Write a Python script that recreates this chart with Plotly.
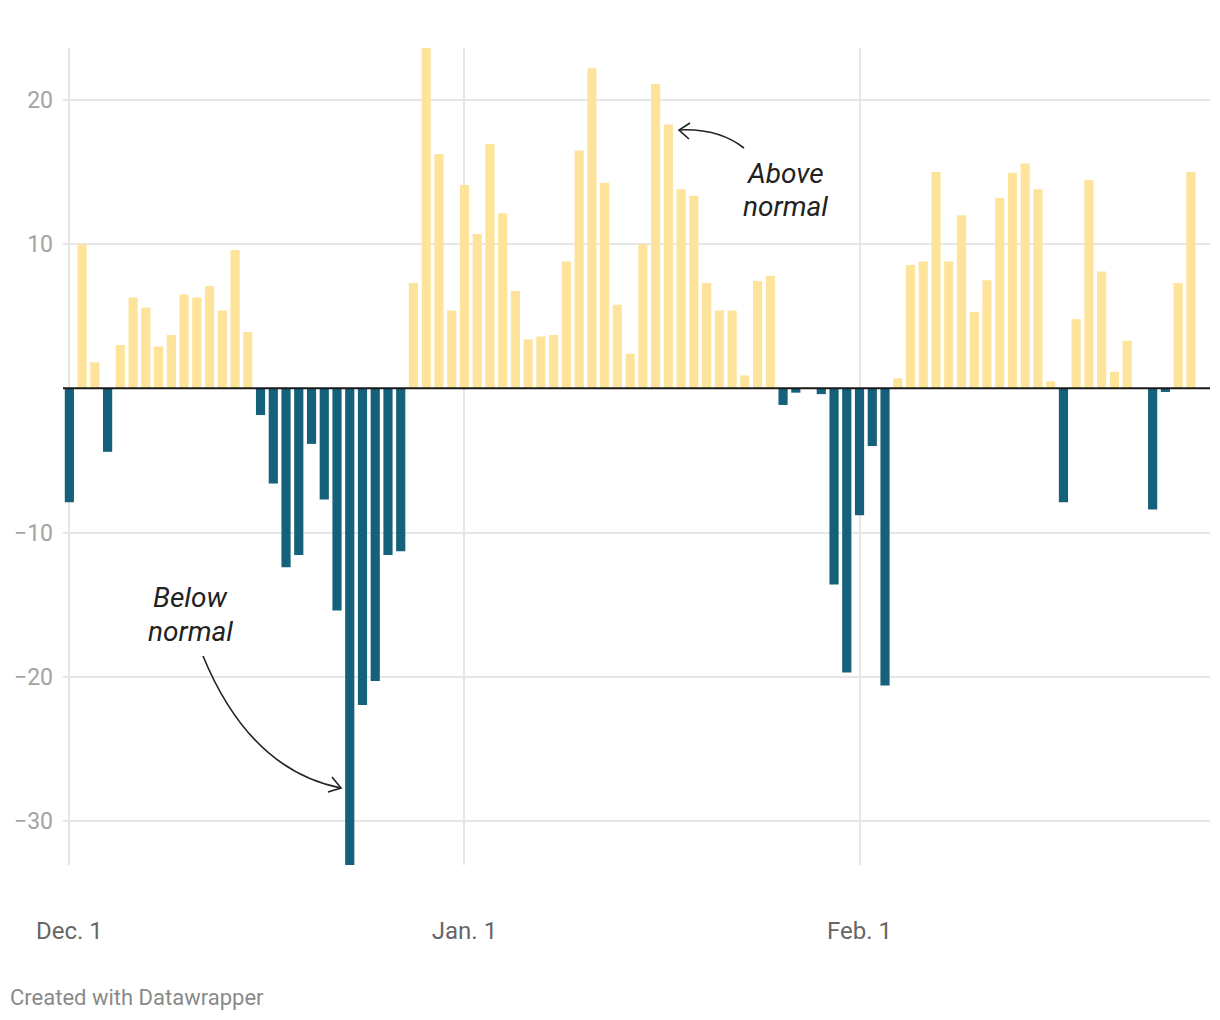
import pandas as pd
import plotly.graph_objects as go

# ---- data ----
start_date = "2017-12-01"
dec_values = [-7.9, 10.0, 1.8, -4.4, 3.0, 6.3, 5.6, 2.9, 3.7, 6.5, 6.3, 7.1, 5.4, 9.6, 3.9,
              -1.85, -6.6, -12.4, -11.55, -3.85, -7.7, -15.4, -33.05, -21.95, -20.3, -11.55,
              -11.3, 7.3, 23.6, 16.25, 5.4]
jan_values = [14.1, 10.7, 16.95, 12.15, 6.75, 3.4, 3.6, 3.7, 8.8, 16.5, 22.2, 14.25, 5.8, 2.4,
              10.0, 21.1, 18.3, 13.8, 13.35, 7.3, 5.4, 5.4, 0.9, 7.45, 7.8, -1.15, -0.3, 0.1,
              -0.4, -13.6, -19.7]
feb_values = [-8.8, -4.0, -20.6, 0.7, 8.55, 8.8, 15.0, 8.8, 12.0, 5.3, 7.5, 13.2, 14.95, 15.6,
              13.8, 0.5, -7.9, 4.8, 14.45, 8.1, 1.15, 3.3, 0.0, -8.4, -0.25, 7.3, 15.0]
tick_dates = ["2017-12-01", "2018-01-01", "2018-02-01"]
tick_labels = ["Dec. 1", "Jan. 1", "Feb. 1"]
y_ticks = [-30, -20, -10, 10, 20]

values = dec_values + jan_values + feb_values
dates = pd.date_range(start_date, periods=len(values), freq="D")

BLUE = "#15607a"
YELLOW = "#fee49b"
colors = [YELLOW if v >= 0 else BLUE for v in values]

# page has an 8px body margin; layout numbers below are page pixels
OFF = 8
W, H = 1220, 1020
PLOT_X0, PLOT_X1, PLOT_Y0, PLOT_Y1 = 63, 1210, 48, 865  # page pixels
L = PLOT_X0 - OFF
R = W - (PLOT_X1 - OFF)
T = PLOT_Y0 - OFF
B = H - (PLOT_Y1 - OFF)
PW, PH = PLOT_X1 - PLOT_X0, PLOT_Y1 - PLOT_Y0


def px(x):
    return (x - PLOT_X0) / PW


def py(y):
    return (PLOT_Y1 - y) / PH


fig = go.Figure()
fig.add_trace(go.Bar(x=dates, y=values, marker=dict(color=colors, line=dict(width=0)),
                     showlegend=False, hoverinfo="x+y"))

fig.update_layout(
    width=W, height=H,
    margin=dict(l=L, r=R, t=T, b=B, autoexpand=False),
    paper_bgcolor="white", plot_bgcolor="white",
    bargap=0.28,
    font=dict(family="Roboto", size=22, color="#666"),
    xaxis=dict(
        type="date",
        range=["2017-11-30 12:00", "2018-02-28 12:00"],
        tickvals=tick_dates, ticktext=tick_labels,
        showgrid=True, gridcolor="#e6e6e6", gridwidth=1.5,
        ticks="", showline=False, zeroline=False,
        tickfont=dict(family="Roboto", size=24, color="#666"),
        ticklabelstandoff=49,
        automargin=False,
    ),
    yaxis=dict(
        range=[-33.05, 23.6],
        tickvals=y_ticks,
        showgrid=True, gridcolor="#e6e6e6", gridwidth=1.5,
        zeroline=False, ticks="", showline=False,
        tickfont=dict(family="Roboto", size=23, color="#a3a3a3"),
        ticklabelstandoff=9,
        automargin=False,
    ),
)

# zero line on top of bars
fig.add_shape(type="line", xref="paper", yref="y", x0=0, x1=1, y0=0, y1=0,
              line=dict(color="#1a1a1a", width=2), layer="above")

# curved arrows (paper coordinates converted from page-pixel layout)
above_arrow = f"M {px(744)},{py(148)} Q {px(718)},{py(128)} {px(679)},{py(130)}"
above_head = f"M {px(690)},{py(123)} L {px(679)},{py(130)} L {px(689)},{py(139)}"
below_arrow = f"M {px(203)},{py(656)} Q {px(250)},{py(770)} {px(341)},{py(788)}"
below_head = f"M {px(332)},{py(777)} L {px(341)},{py(788)} L {px(328)},{py(792)}"
for p in [above_arrow, above_head, below_arrow, below_head]:
    fig.add_shape(type="path", xref="paper", yref="paper", path=p,
                  line=dict(color="#222", width=1.6), layer="above")

ann_font = dict(family="Roboto", size=28, color="#222", style="italic")
for txt, x, y in [("Above", 785, 173), ("normal", 785, 207),
                  ("Below", 190, 597), ("normal", 190, 631)]:
    fig.add_annotation(text=txt, xref="paper", yref="paper",
                       x=px(x), y=py(y), xanchor="center", yanchor="middle",
                       showarrow=False, font=ann_font)
fig.add_annotation(text="Created with Datawrapper", xref="paper", yref="paper",
                   x=px(8), y=py(997), xanchor="left", yanchor="middle",
                   showarrow=False, font=dict(family="Roboto", size=22, color="#8a8a8a"))

fig.write_html("out.html")
